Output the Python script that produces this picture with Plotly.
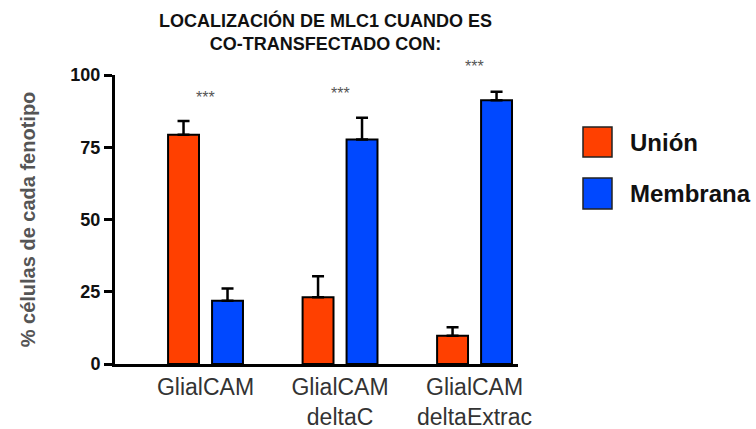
import plotly.graph_objects as go

# Data
groups = ["GlialCAM", "GlialCAM<br>deltaC", "GlialCAM<br>deltaExtrac"]
union_vals = [79.3, 23.1, 9.8]
union_err = [4.8, 7.3, 2.9]
membrana_vals = [21.9, 77.7, 91.3]
membrana_err = [4.2, 7.5, 2.9]
sig_labels = ["***", "***", "***"]
sig_heights = [93.8, 95.2, 104.5]
y_ticks = [0, 25, 50, 75, 100]
y_ticktext = ["<b>%d</b>" % v for v in y_ticks]

RED = "#FF4000"
BLUE = "#0048FF"
FONT = "Arial, Liberation Sans, sans-serif"

W, H = 756, 429
L, R, T, B = 115, 238, 75, 65
PW, PH = W - L - R, H - T - B
Y_MAX = 100


def px_x(px):
    return (px - L) / PW


def px_y(py):
    return (H - B - py) / PH


fig = go.Figure()
for name, vals, errs, color in [
    ("Unión", union_vals, union_err, RED),
    ("Membrana", membrana_vals, membrana_err, BLUE),
]:
    fig.add_trace(go.Bar(
        name=name, x=groups, y=vals,
        marker=dict(color=color, line=dict(color="black", width=2)),
        error_y=dict(type="data", symmetric=False, array=errs,
                     arrayminus=[0] * len(errs), color="black",
                     thickness=2.5, width=6),
        showlegend=False,
    ))

# significance marks above each group (paper y so marks above the axis stay visible)
for g, lab, h in zip(groups, sig_labels, sig_heights):
    fig.add_annotation(x=g, y=h / Y_MAX, xref="x", yref="paper", text=lab,
                       yshift=6, showarrow=False,
                       font=dict(size=16, color="#555", family=FONT))

# legend drawn as large swatches with labels
for name, color, top, bot in [("Unión", RED, 127, 157), ("Membrana", BLUE, 178, 209)]:
    fig.add_shape(type="rect", xref="paper", yref="paper",
                  x0=px_x(583), x1=px_x(612), y0=px_y(bot), y1=px_y(top),
                  fillcolor=color, line=dict(color="#222", width=1.5))
    fig.add_annotation(xref="paper", yref="paper", x=px_x(628), y=px_y((top + bot) / 2),
                       xanchor="left", yanchor="middle", text="<b>%s</b>" % name,
                       showarrow=False, font=dict(size=24, color="#111", family=FONT))

# chart title
fig.add_annotation(xref="paper", yref="paper", x=px_x(325), y=px_y(8),
                   xanchor="center", yanchor="top", align="center", showarrow=False,
                   text="<b>LOCALIZACIÓN DE MLC1 CUANDO ES<br>CO-TRANSFECTADO CON:</b>",
                   font=dict(size=18, color="#111", family=FONT))

fig.update_layout(
    width=W, height=H,
    margin=dict(l=L, r=R, t=T, b=B),
    paper_bgcolor="white", plot_bgcolor="white",
    barmode="group", bargap=0.346, bargroupgap=0.297,
    font=dict(family=FONT),
    xaxis=dict(range=[-0.673, 2.323], showline=True, linecolor="black", linewidth=3,
               ticks="", tickfont=dict(size=23, color="#333", family=FONT),
               showgrid=False, zeroline=False, automargin=False),
    yaxis=dict(range=[0, Y_MAX], tickvals=y_ticks, ticktext=y_ticktext,
               showline=True, linecolor="black",
               linewidth=3, ticks="outside", ticklen=8, tickwidth=3, tickcolor="black",
               tickfont=dict(size=18, color="#111", family=FONT),
               showgrid=False, zeroline=False, automargin=False,
               title=dict(text="<b>% células de cada fenotipo</b>", standoff=30,
                          font=dict(size=20, color="#555", family=FONT))),
)

fig.write_html("out.html")
